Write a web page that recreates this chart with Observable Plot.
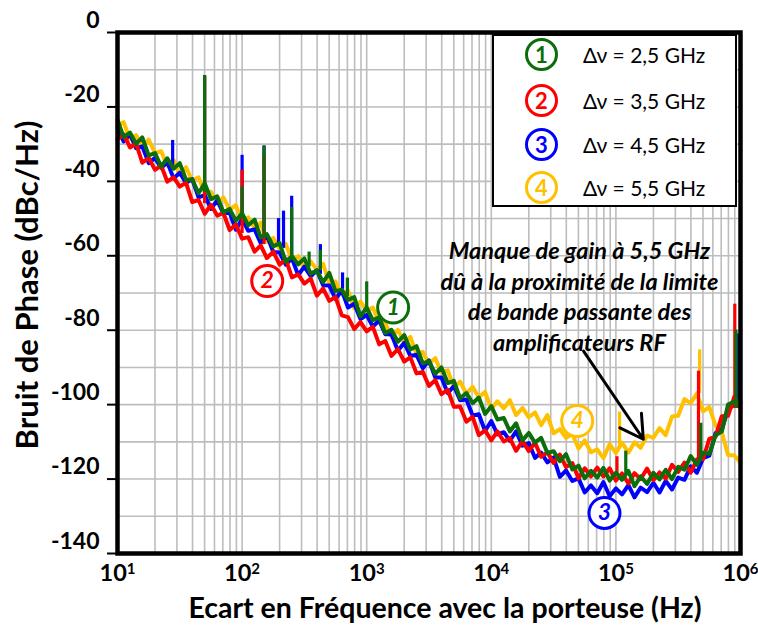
<!DOCTYPE html>
<html><head><meta charset="utf-8">
<script src="https://cdn.jsdelivr.net/npm/d3@7"></script>
<script src="https://cdn.jsdelivr.net/npm/@observablehq/plot@0.6"></script>
<style>
body{margin:0;background:#fff;}
#wrap{position:relative;width:758px;height:626px;font-family:Lato,"Open Sans",sans-serif;}
#legend{position:absolute;left:492px;top:34px;width:245px;height:173px;box-sizing:border-box;border:2px solid #000;background:#fff;}
.lc{position:absolute;left:31px;width:33px;height:33px;box-sizing:border-box;border:3px solid;border-radius:50%;text-align:center;line-height:27px;font-weight:bold;font-size:22px;}
.lt{position:absolute;left:89px;height:33px;line-height:33px;font-size:21px;color:#000;white-space:nowrap;}
</style></head>
<body><div id="wrap"></div>
<script>
// ---- data ----
const freq = [10,11.2,12.6,14.1,15.8,17.8,20,22.4,25.1,28.2,31.6,35.5,39.8,44.7,50.1,56.2,63.1,70.8,79.4,89.1,
100,112,126,141,158,178,200,224,251,282,316,355,398,447,501,562,631,708,794,891,
1000,1120,1260,1410,1580,1780,2000,2240,2510,2820,3160,3550,3980,4470,5010,5620,6310,7080,7940,8910,
10000,11200,12600,14100,15800,17800,20000,22400,25100,28200,31600,35500,39800,44700,50100,56200,63100,70800,79400,89100,
100000,112000,126000,141000,158000,178000,200000,224000,251000,282000,316000,355000,398000,447000,501000,562000,631000,708000,794000,891000,
1000000];
const green = [-23.5,-28.1,-26.9,-29.9,-28.2,-33.0,-32.4,-36.0,-33.8,-36.6,-35.1,-39.6,-39.5,-43.2,-40.5,-44.8,-44.0,-48.3,-47.4,-50.6,
-48.6,-51.8,-50.3,-55.1,-54.2,-57.5,-56.6,-61.6,-60.1,-62.3,-60.7,-64.8,-64.0,-67.1,-64.6,-69.5,-69.1,-71.9,-71.1,-76.3,
-73.9,-77.3,-76.5,-80.8,-79.9,-83.1,-81.3,-85.2,-84.3,-88.9,-88.3,-91.7,-90.0,-94.2,-93.6,-98.3,-96.9,-99.6,-98.1,-102.5,
-100.4,-104.0,-103.6,-107.2,-105.0,-109.6,-107.6,-110.2,-108.9,-113.0,-112.5,-115.2,-113.3,-117.4,-116.4,-119.8,-117.8,-119.6,-117.0,-120.4,
-118.3,-120.2,-117.8,-121.9,-119.3,-121.3,-118.3,-120.1,-117.5,-120.0,-116.7,-117.5,-113.8,-116.2,-112.9,-113.2,-108.2,-107.2,-100.0,-99.2,
-99.2];
const red = [-28.7,-27.4,-30.9,-29.8,-35.0,-33.7,-36.9,-35.7,-40.1,-38.9,-41.4,-40.4,-45.6,-45.0,-48.7,-46.3,-49.2,-48.5,-53.1,-51.6,
-55.4,-55.0,-58.9,-57.2,-60.6,-58.9,-62.4,-60.9,-65.8,-65.0,-67.5,-66.1,-70.7,-68.8,-72.1,-71.1,-76.0,-76.5,-79.7,-77.8,
-80.3,-79.1,-83.8,-82.9,-86.9,-85.1,-88.4,-87.3,-91.6,-91.2,-95.0,-93.4,-97.2,-96.0,-100.6,-100.5,-104.6,-103.3,-108.2,-106.9,
-109.6,-107.2,-109.9,-109.0,-112.4,-109.8,-112.5,-110.2,-114.0,-112.8,-115.7,-113.4,-116.8,-115.7,-119.8,-117.1,-119.3,-116.9,-119.3,-117.1,
-120.4,-118.5,-121.2,-118.4,-120.0,-117.2,-120.3,-118.2,-119.9,-116.2,-118.1,-115.6,-118.3,-114.7,-114.6,-109.2,-108.6,-103.1,-103.0,-97.9,
-101.0];
const blue = [-25.6,-29.3,-27.3,-31.1,-30.6,-35.1,-33.7,-36.4,-34.9,-39.2,-37.7,-40.4,-39.4,-44.3,-43.7,-47.4,-45.1,-48.6,-48.3,-53.0,
-50.1,-53.3,-52.9,-56.6,-54.5,-59.0,-59.1,-62.4,-60.7,-65.2,-62.9,-65.5,-63.9,-67.9,-68.0,-71.6,-69.3,-73.9,-72.9,-77.0,
-75.9,-79.0,-77.4,-81.1,-81.1,-85.5,-83.4,-86.9,-86.6,-90.2,-88.1,-92.7,-92.7,-96.9,-95.0,-98.8,-98.6,-102.9,-102.6,-107.1,
-104.4,-108.0,-107.4,-109.7,-107.2,-111.0,-110.3,-114.3,-112.9,-115.5,-114.2,-119.4,-117.7,-120.5,-119.8,-123.6,-121.7,-123.8,-120.8,-124.6,
-122.5,-124.1,-121.6,-124.9,-122.3,-123.5,-121.0,-123.6,-120.5,-122.8,-119.6,-120.2,-116.6,-118.3,-114.4,-113.7,-107.6,-106.7,-101.3,-100.0,
-99.5];
const yellow = [-25.0,-24.1,-28.7,-27.6,-30.7,-28.8,-32.4,-31.9,-35.8,-34.3,-38.3,-36.2,-39.9,-38.9,-43.0,-42.8,-45.9,-44.3,-47.6,-46.4,
-50.9,-49.7,-52.6,-51.1,-56.2,-55.2,-58.1,-56.8,-61.2,-60.1,-63.5,-61.5,-63.8,-62.2,-67.5,-66.9,-70.4,-69.3,-74.1,-72.3,
-74.8,-73.9,-78.0,-78.1,-81.7,-79.9,-83.3,-81.8,-86.4,-85.8,-89.0,-87.5,-91.4,-90.8,-95.4,-93.8,-97.1,-95.2,-98.0,-96.6,
-101.1,-99.1,-101.0,-98.8,-102.8,-100.9,-103.4,-102.1,-105.5,-102.8,-107.7,-106.6,-108.9,-107.9,-111.8,-109.6,-112.8,-112.0,-114.4,-110.6,
-113.0,-110.2,-112.9,-110.1,-111.6,-108.3,-108.9,-106.3,-108.2,-103.2,-103.0,-98.5,-99.6,-97.0,-101.8,-100.6,-105.7,-107.4,-113.5,-113.6,
-115.6];
// narrow spurs (frequency, base, peak)
const greenSpurF  = [50, 100, 150, 250, 345, 425, 700, 1000, 120000, 480000, 920000];
const greenSpurLo = [-43, -50, -54, -60, -63, -64, -71, -74, -119, -114, -101];
const greenSpurHi = [-11.6, -41.5, -30.5, -47, -59, -58.5, -66, -67, -112.5, -105, -80];
const redSpurF  = [50, 100, 150, 102000, 460000, 900000];
const redSpurLo = [-46, -54, -57, -119, -116, -101];
const redSpurHi = [-12, -37, -33, -114, -91, -73];
const blueSpurF  = [27.7, 50, 100, 150, 196, 215, 250, 425, 640, 950000];
const blueSpurLo = [-37, -44, -51, -55, -57, -58, -60, -65, -69, -101];
const blueSpurHi = [-29, -11.6, -33, -30.5, -50, -48, -44, -57, -64.6, -81];
const yellowSpurF  = [50, 100, 107000, 470000];
const yellowSpurLo = [-42, -48, -112, -97];
const yellowSpurHi = [-12, -37, -102, -85.3];

const seriesIds = ["1", "2", "3", "4"];
const deltaNu = ["2,5", "3,5", "4,5", "5,5"];
const colors = ["#0b6e0b", "#ff0000", "#0000ff", "#ffc000"];
// circled markers on the curves: frequency, level
const markF = [1630, 159, 81000, 48900];
const markDb = [-73.9, -66.8, -129.1, -104.4];
const yTicks = [-140, -120, -100, -80, -60, -40, -20, 0];
const xTicks = [10, 100, 1000, 10000, 100000, 1000000];
const note = "Manque de gain à 5,5 GHz\ndû à la proximité de la limite\nde bande passante des\namplificateurs RF";
const noteAt = [51000, -70.6];
const arrowFrom = [55000, -85.6];
const arrowTo = [166000, -109.3];

// ---- build ----
const rows = arr => freq.map((f, i) => ({f, v: arr[i]}));
const spurs = (F, L, H) => F.map((f, i) => ({f, lo: L[i], hi: H[i]}));
const marks = seriesIds.map((id, i) => ({id, f: markF[i], v: markDb[i], c: colors[i]}));
const gridXTicks = d3.scaleLog().domain([10, 1e6]).ticks();
const gridYTicks = d3.range(-140, 1, 10);

const lineOpts = c => ({x: "f", y: "v", stroke: c, strokeWidth: 4, strokeLinejoin: "round"});
const spurOpts = c => ({x: "f", y1: "lo", y2: "hi", stroke: c, strokeWidth: 3.2});

const chart = Plot.plot({
  width: 758, height: 626,
  marginLeft: 117, marginRight: 18, marginTop: 32, marginBottom: 73,
  style: {fontFamily: "Lato, sans-serif", background: "transparent", color: "#000"},
  x: {type: "log", domain: [10, 1e6]},
  y: {domain: [-140, 0]},
  marks: [
    Plot.gridX(gridXTicks, {stroke: "#bdbdbd", strokeOpacity: 1, strokeWidth: 1.6}),
    Plot.gridY(gridYTicks, {stroke: "#bdbdbd", strokeOpacity: 1, strokeWidth: 1.6}),
    Plot.line(rows(yellow), lineOpts(colors[3])),
    Plot.ruleX(spurs(yellowSpurF, yellowSpurLo, yellowSpurHi), spurOpts(colors[3])),
    Plot.line(rows(blue), lineOpts(colors[2])),
    Plot.ruleX(spurs(blueSpurF, blueSpurLo, blueSpurHi), spurOpts(colors[2])),
    Plot.line(rows(red), lineOpts(colors[1])),
    Plot.ruleX(spurs(redSpurF, redSpurLo, redSpurHi), spurOpts(colors[1])),
    Plot.line(rows(green), lineOpts(colors[0])),
    Plot.ruleX(spurs(greenSpurF, greenSpurLo, greenSpurHi), spurOpts(colors[0])),
    Plot.frame({stroke: "#000", strokeWidth: 4.5}),
    Plot.dot(marks, {x: "f", y: "v", r: 15.5, stroke: "c", fill: "white", strokeWidth: 3}),
    Plot.text(marks, {x: "f", y: "v", text: "id", fill: "c", fontSize: 23, fontWeight: "bold", fontStyle: "italic"}),
    Plot.text([note], {x: () => noteAt[0], y: () => noteAt[1], text: d => d, fontSize: 23.5, fontWeight: "bold", fontStyle: "italic", lineHeight: 1.3, fill: "#000"}),
    Plot.arrow([0], {x1: () => arrowFrom[0], y1: () => arrowFrom[1], x2: () => arrowTo[0], y2: () => arrowTo[1], stroke: "#000", strokeWidth: 3, headLength: 13}),
    Plot.axisY(yTicks, {tickSize: 10, tickPadding: 8, fontSize: 23, fontWeight: "bold", label: null, strokeWidth: 2, tickFormat: d => String(d)}),
    Plot.axisX(xTicks, {tickSize: 0, tickPadding: 11, fontSize: 23.5, fontWeight: "bold", label: null, tickFormat: d => "10^" + Math.round(Math.log10(d))})
  ]
});

const svg = d3.select(chart);
// y tick labels sit slightly above their ticks, as in the reference
svg.selectAll('g[aria-label="y-axis tick label"]').each(function() {
  const g = d3.select(this);
  const tr = g.attr("transform") || "";
  g.attr("transform", "translate(0,-12) " + tr);
});
// superscript exponents
svg.selectAll('g[aria-label="x-axis tick label"] text').each(function() {
  const s = this.textContent;
  const [b, e] = s.split("^");
  const t = d3.select(this);
  t.text(null);
  t.append("tspan").text(b);
  t.append("tspan").attr("dy", "-0.45em").attr("font-size", "0.64em").text(e);
});
svg.append("text").attr("x", 445).attr("y", 611).attr("text-anchor", "middle").attr("dominant-baseline", "middle")
  .attr("font-size", 28.5).attr("font-weight", "bold").attr("font-family", "Lato, sans-serif").text("Ecart en Fréquence avec la porteuse (Hz)");
svg.append("text").attr("transform", "translate(30,285) rotate(-90)").attr("text-anchor", "middle").attr("dominant-baseline", "middle")
  .attr("font-size", 31).attr("font-weight", "bold").attr("font-family", "Lato, sans-serif").text("Bruit de Phase (dBc/Hz)");

const wrap = document.getElementById("wrap");
chart.style.position = "absolute"; chart.style.left = "0"; chart.style.top = "0";
wrap.appendChild(chart);

const legend = document.createElement("div");
legend.id = "legend";
const tops = [2, 48, 92, 135];
seriesIds.forEach((id, i) => {
  const c = document.createElement("div");
  c.className = "lc"; c.style.top = tops[i] + "px"; c.style.borderColor = colors[i]; c.style.color = colors[i];
  c.textContent = id;
  const t = document.createElement("div");
  t.className = "lt"; t.style.top = tops[i] + "px";
  t.textContent = "Δν = " + deltaNu[i] + " GHz";
  legend.appendChild(c); legend.appendChild(t);
});
wrap.appendChild(legend);
</script></body></html>
